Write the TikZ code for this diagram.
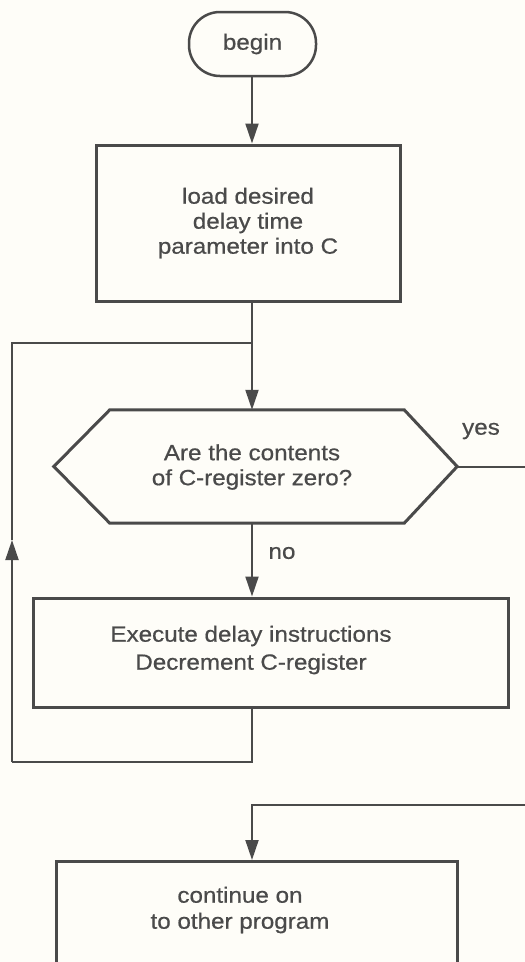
\documentclass[tikz,border=0pt]{standalone}
\usepackage{fontspec}
\newfontfamily\flowfont{Liberation Sans}[FakeStretch=1.1,FakeBold=0.6]
\usetikzlibrary{arrows.meta}
\definecolor{ink}{HTML}{4A4A4A}
\definecolor{paper}{HTML}{FEFDF8}
\begin{document}
\begin{tikzpicture}[x=1pt,y=1pt,
  every node/.style={font=\flowfont\fontsize{22}{25}\selectfont, text=ink},
  procbox/.style={draw=ink, line width=3pt, rectangle, inner sep=0pt, align=center},
  termbox/.style={draw=ink, line width=2.5pt, rectangle, rounded corners=31pt, minimum width=127pt, minimum height=64pt, inner sep=0pt},
  conn/.style={draw=ink, line width=2pt},
  arr/.style={conn, -{Triangle[length=20pt,width=13pt]}},
  txt/.style={align=center, inner sep=0pt},
]
\useasboundingbox (0,0) rectangle (525,-962);
\fill[paper] (0,0) rectangle (525,-962);
\clip (0,0) rectangle (525,-962);

% nodes
\node[termbox] (begin) at (252.5,-44) {begin};
\node[procbox, minimum width=304pt, minimum height=156pt] (load) at (248,-223) {load desired\\delay time\\parameter into C};
\node[minimum width=403pt, minimum height=113pt, inner sep=0pt] (dec) at (255.5,-466.5) {};
\draw[ink, line width=3pt, line join=miter]
  (dec.west) -- ([xshift=56pt]dec.north west) -- ([xshift=-53pt]dec.north east)
  -- (dec.east) -- ([xshift=-53pt]dec.south east) -- ([xshift=56pt]dec.south west) -- cycle;
\node[txt] (dectxt) at (252,-467) {Are the contents\\of C-register zero?};
\node[procbox, minimum width=475pt, minimum height=109pt] (exec) at (270.5,-652.5) {};
\node[txt, font=\flowfont\fontsize{22}{28}\selectfont] (exectxt) at (251,-650) {Execute delay instructions\\Decrement C-register};
\node[procbox, minimum width=401pt, minimum height=150pt, anchor=north] (cont) at (256.5,-860) {};
\node[txt, font=\flowfont\fontsize{22}{26}\selectfont] (conttxt) at (240,-910) {continue on\\to other program};

\node[txt] (yes) at (481,-431) {yes};
\node[txt] (no) at (282,-553) {no};

% coordinates
\coordinate (join) at (252,-343);
\coordinate (lb) at (12,-762);
\coordinate (up) at (12,-540);
\coordinate (lt) at (12,-343);
\coordinate (yesend) at (525,-466.5);
\coordinate (reentry) at (525,-805);

% connectors
\draw[arr] (begin.south -| join) -- (load.north -| join);
\draw[conn] (load.south -| join) -- (join);
\draw[arr] (join) -- (dec.north -| join);
\draw[arr] (dec.south -| join) -- (exec.north -| join);
\draw[conn] (exec.south -| join) |- (lb);
\draw[arr] (lb) -- (up);
\draw[conn] (up) -- (lt) -- (join);
\draw[conn] (dec.east) -- (yesend);
\draw[arr] (reentry) -| (cont.north -| join);
\end{tikzpicture}
\end{document}
